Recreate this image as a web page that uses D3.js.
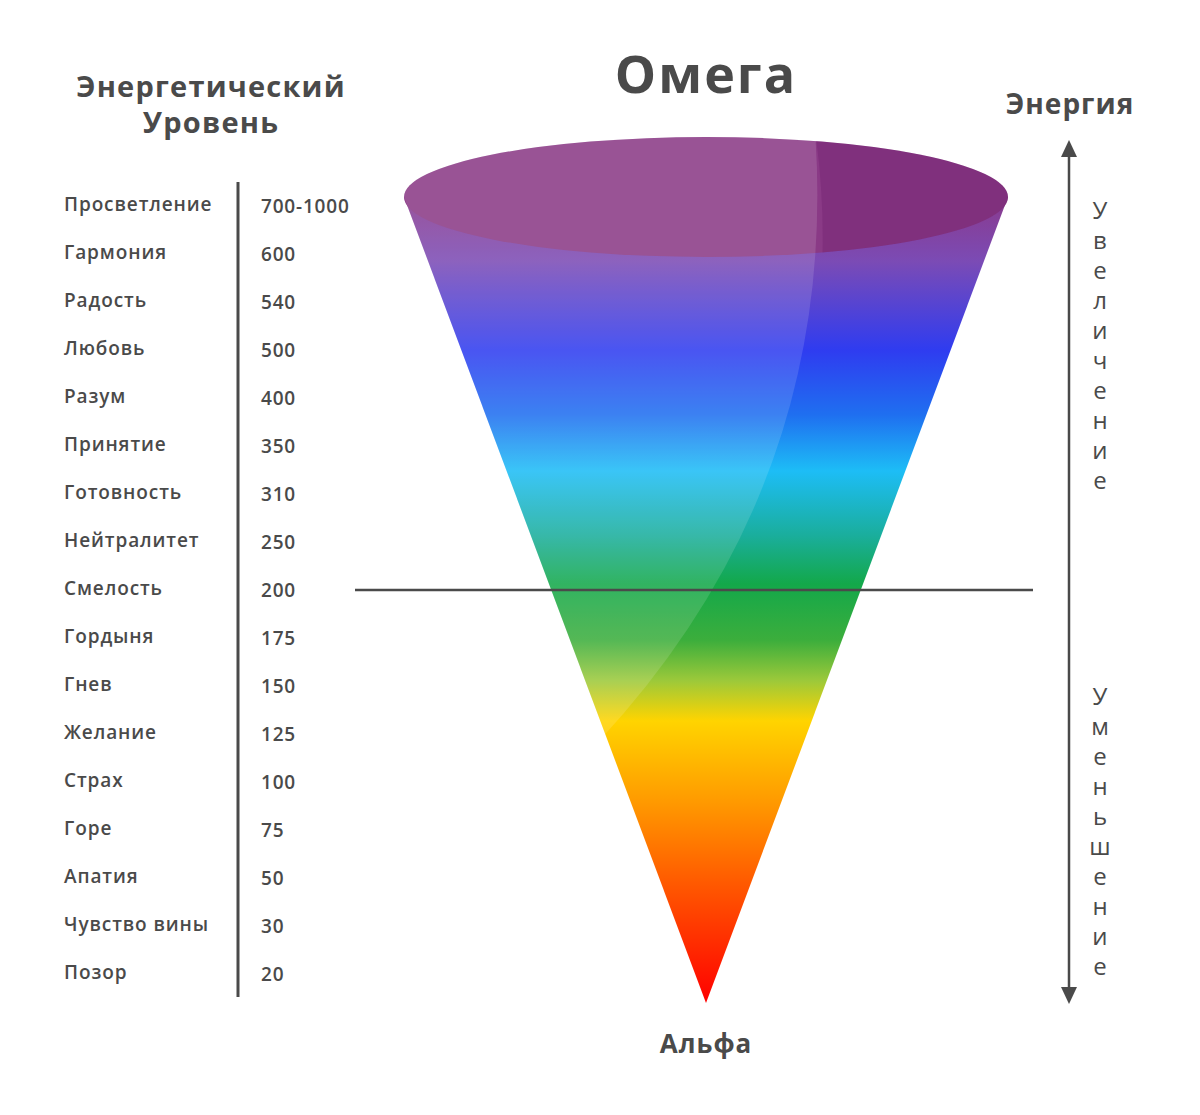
<!DOCTYPE html>
<html><head><meta charset="utf-8">
<script src="https://cdn.jsdelivr.net/npm/d3@7"></script>
<style>body{margin:0;background:#fff}</style></head>
<body><svg id="c" width="1200" height="1115"></svg>
<script>
const levels=["Просветление","Гармония","Радость","Любовь","Разум","Принятие","Готовность","Нейтралитет","Смелость","Гордыня","Гнев","Желание","Страх","Горе","Апатия","Чувство вины","Позор"];
const values=["700-1000","600","540","500","400","350","310","250","200","175","150","125","100","75","50","30","20"];
const stops=[[0,"#8a3a8c"],[0.08,"#7b4bb5"],[0.19,"#2f3cf0"],[0.27,"#1f6ff0"],[0.34,"#1dbdf6"],[0.42,"#1aae9c"],[0.48,"#13a84a"],[0.55,"#3cae3c"],[0.6,"#9cc93a"],[0.65,"#ffd400"],[0.75,"#ff9a00"],[0.85,"#ff5a00"],[1,"#ff0000"]];
const svg=d3.select("#c");
const F="Open Sans, sans-serif",C="#4a4a4a";
const y=d3.scalePoint().domain(levels).range([204,972]);
svg.selectAll(".l").data(levels).enter().append("text").attr("x",64).attr("y",d=>y(d)).attr("dy","0.35em")
 .attr("font-family",F).attr("font-weight",600).attr("font-size",19).attr("letter-spacing",0.9).attr("fill",C).text(d=>d);
svg.selectAll(".v").data(values).enter().append("text").attr("x",261).attr("y",(d,i)=>y(levels[i])+2).attr("dy","0.35em")
 .attr("font-family",F).attr("font-weight",600).attr("font-size",19).attr("letter-spacing",0.8).attr("fill",C).text(d=>d);
svg.append("line").attr("x1",238).attr("x2",238).attr("y1",182).attr("y2",997).attr("stroke",C).attr("stroke-width",3);
const t=(x,yy,s,txt,ls)=>svg.append("text").attr("x",x).attr("y",yy).attr("text-anchor","middle").attr("font-family",F).attr("font-weight",700).attr("font-size",s).attr("letter-spacing",ls).attr("fill",C).text(txt);
t(211,97,29,"Энергетический",1.2);t(211,133,29,"Уровень",1.2);t(706,93,52,"Омега",2);t(1070,114,28,"Энергия",1);t(706,1053,26,"Альфа",1);
const defs=svg.append("defs");
const g=defs.append("linearGradient").attr("id","g").attr("gradientUnits","userSpaceOnUse")
 .attr("x1",0).attr("y1",197).attr("x2",0).attr("y2",1003);
stops.forEach(s=>g.append("stop").attr("offset",s[0]).attr("stop-color",s[1]));
svg.append("path").attr("d","M404,197 L706,1003 L1008,197 Z").attr("fill","url(#g)");
svg.append("ellipse").attr("cx",706).attr("cy",197).attr("rx",302).attr("ry",60).attr("fill","#8a3a86");
defs.append("clipPath").attr("id","cl").append("path").attr("d","M404,197 A302,60 0 0 1 1008,197 L706,1003 Z");
defs.append("clipPath").attr("id","ce").append("ellipse").attr("cx",706).attr("cy",197).attr("rx",302).attr("ry",60);
svg.append("path").attr("clip-path","url(#cl)").attr("d","M380,130 L815,130 Q840,480 600,740 L380,740 Z").attr("fill","#fff").attr("opacity",0.13);
svg.append("path").attr("clip-path","url(#ce)").attr("d","M815,130 L1010,130 L1010,270 L822,270 Q825,200 815,130 Z").attr("fill","#5a0a5a").attr("opacity",0.2);
svg.append("line").attr("x1",355).attr("x2",1033).attr("y1",590).attr("y2",590).attr("stroke",C).attr("stroke-width",2.5);
svg.append("line").attr("x1",1069).attr("x2",1069).attr("y1",150).attr("y2",994).attr("stroke",C).attr("stroke-width",2.5);
svg.append("path").attr("d","M1061,157 L1069,140 L1077,157 Z").attr("fill",C);
svg.append("path").attr("d","M1061,987 L1069,1004 L1077,987 Z").attr("fill",C);
const vt=(s,y0)=>[...s].forEach((ch,i)=>svg.append("text").attr("x",1100).attr("y",y0+i*30).attr("dy","0.35em").attr("text-anchor","middle").attr("font-family",F).attr("font-size",24).attr("fill",C).text(ch));
vt("Увеличение",211);vt("Уменьшение",697);
</script></body></html>
